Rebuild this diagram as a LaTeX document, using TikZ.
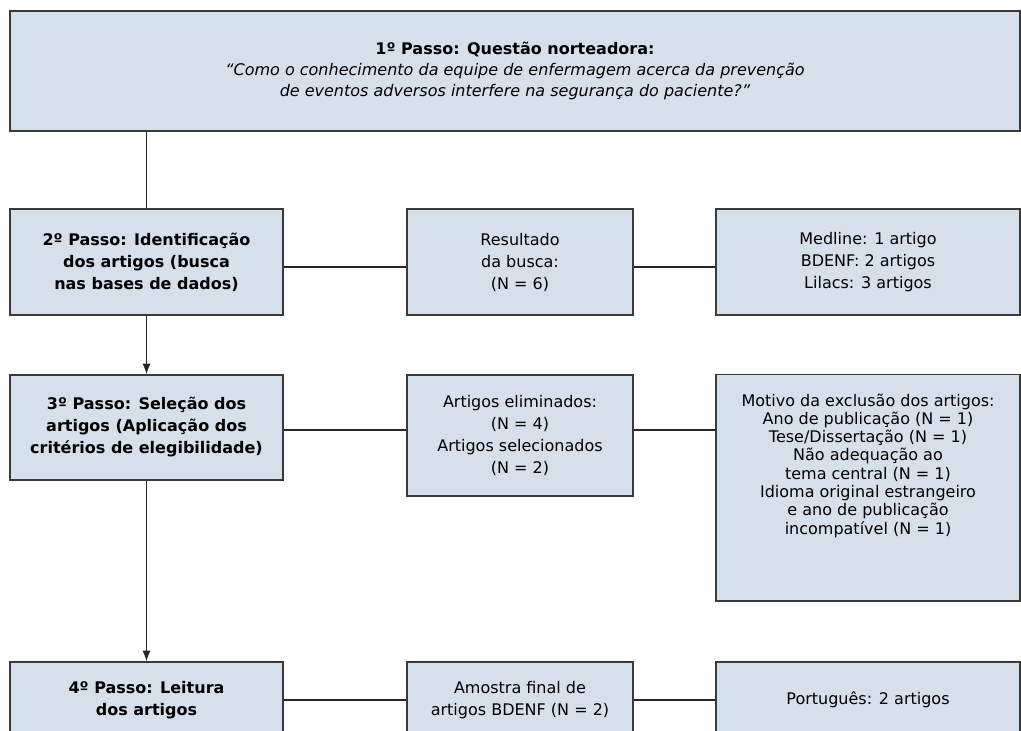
\documentclass[tikz,border=0pt]{standalone}
\usepackage{fontspec}
\setmainfont{DejaVu Sans}
\usepackage{xcolor}
\usetikzlibrary{arrows,arrows.meta}
\definecolor{boxfill}{HTML}{D6E0EA}
\definecolor{boxline}{HTML}{3A3A3A}

\begin{document}
\begin{tikzpicture}[x=0.75pt,y=-0.75pt,>={Latex[length=8pt,width=6pt]}]
\tikzset{passo/.style={draw=boxline, line width=1.1pt, fill=boxfill, align=center,
    inner sep=0pt, font=\fontsize{12}{16.5}\selectfont},
  tam/.style 2 args={minimum width=#1*0.75pt, minimum height=#2*0.75pt},
  liga/.style={draw=black!85, line width=0.8pt}}
\clip (0,0) rectangle (1021,731);

\node[passo, tam={1010}{120}, font=\fontsize{12}{15.75}\selectfont] (q1) at (515,71)
  {\textbf{1º Passo: Questão norteadora:}\\
   \textit{“Como o conhecimento da equipe de enfermagem acerca da prevenção}\\
   \textit{de eventos adversos interfere na segurança do paciente?”}};

% passo 2
\node[passo, tam={273}{106}] (l2) at (146.5,262)
  {\textbf{2º Passo: Identificação}\\ \textbf{dos artigos (busca}\\ \textbf{nas bases de dados)}};
\node[passo, tam={226}{106}] (m2) at (520,262) {Resultado\\ da busca:\\ (N = 6)};
\node[passo, tam={304}{106}] (r2) at (868,262) {Medline: 1 artigo\\ BDENF: 2 artigos\\ Lilacs: 3 artigos};

% passo 3
\node[passo, tam={273}{105}] (l3) at (146.5,427.5)
  {\textbf{3º Passo: Seleção dos}\\ \textbf{artigos (Aplicação dos}\\ \textbf{critérios de elegibilidade)}};
\node[passo, tam={226}{121}] (m3) at (520,435.5)
  {Artigos eliminados:\\ (N = 4)\\ Artigos selecionados\\ (N = 2)};
\node[passo, minimum width=304*0.75pt, anchor=north, inner ysep=19*0.75pt, text depth=36pt,
  font=\fontsize{12}{13.7}\selectfont] (r3) at (868,374)
  {Motivo da exclusão dos artigos:\\ Ano de publicação (N = 1)\\ Tese/Dissertação (N = 1)\\
   Não adequação ao\\ tema central (N = 1)\\ Idioma original estrangeiro\\
   e ano de publicação\\ incompatível (N = 1)};

% passo 4
\node[passo, tam={273}{76}] (l4) at (146.5,700) {\textbf{4º Passo: Leitura}\\ \textbf{dos artigos}};
\node[passo, tam={226}{76}] (m4) at (520,700) {Amostra final de\\ artigos BDENF (N = 2)};
\node[passo, tam={304}{76}] (r4) at (868,700) {Português: 2 artigos};

\draw[liga] (q1.south -| l2.north) -- (l2.north);
\draw[liga,->] (l2) -- (l3);
\draw[liga,->] (l3) -- (l4);
\draw[liga] ([yshift=-5*0.75pt]l2.east) -- ([yshift=-5*0.75pt]m2.west);
\draw[liga] ([yshift=-5*0.75pt]m2.east) -- ([yshift=-5*0.75pt]r2.west);
\draw[liga] ([yshift=-2.5*0.75pt]l3.east) -- ([yshift=-2.5*0.75pt]l3.east -| m3.west);
\draw[liga] ([yshift=-2.5*0.75pt]l3.east -| m3.east) -- ([yshift=-2.5*0.75pt]l3.east -| r3.west);
\draw[liga] (l4) -- (m4);
\draw[liga] (m4) -- (r4);
\end{tikzpicture}
\end{document}
